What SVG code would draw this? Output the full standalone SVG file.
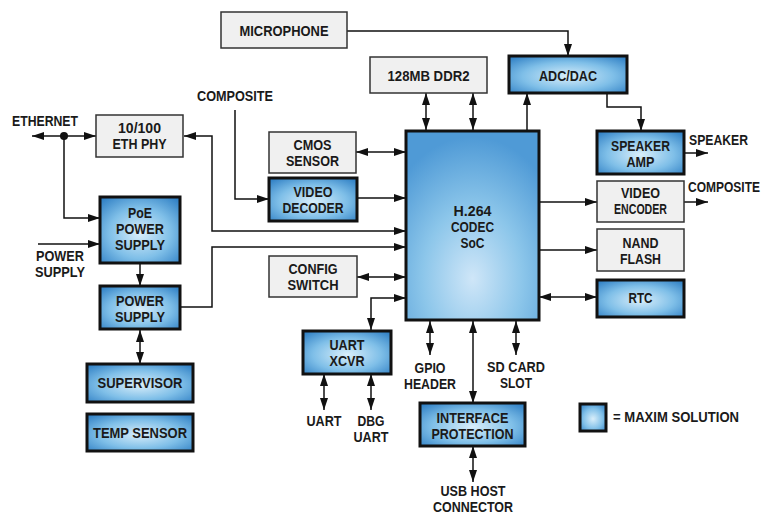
<svg xmlns="http://www.w3.org/2000/svg" width="764" height="514" viewBox="0 0 764 514">
<defs>
<radialGradient id="gb" cx="50%" cy="55%" r="70%">
<stop offset="0" stop-color="#d9eefa"/>
<stop offset="0.55" stop-color="#7fbfe8"/>
<stop offset="1" stop-color="#2f7fc4"/>
</radialGradient>
<radialGradient id="gsoc" cx="50%" cy="78%" r="75%">
<stop offset="0" stop-color="#cfe6f8"/>
<stop offset="0.5" stop-color="#8cc6ea"/>
<stop offset="1" stop-color="#4f9ad6"/>
</radialGradient>
<marker id="ah" viewBox="0 0 12 8" refX="12" refY="4" markerWidth="12" markerHeight="8" markerUnits="userSpaceOnUse" orient="auto-start-reverse">
<path d="M0,0 L12,4 L0,8 z" fill="#111"/>
</marker>
</defs>
<style>
.g{fill:#f0f0f0;stroke:#333;stroke-width:1.5}
.b{fill:url(#gb);stroke:#111;stroke-width:3}
.soc{fill:url(#gsoc);stroke:#111;stroke-width:3}
text{font-family:"Liberation Sans",Arial,sans-serif;font-weight:bold;font-size:15px;fill:#1a1a1a;text-anchor:middle}
.l{text-anchor:start}
#connectors path,#connectors line{fill:none;stroke:#111;stroke-width:1.5}
.s{marker-end:url(#ah)}
.d{marker-start:url(#ah);marker-end:url(#ah)}
</style>
<rect width="764" height="514" fill="#fff"/>

<g id="connectors">
<line class="d" x1="32" y1="136" x2="96" y2="136"/>
<circle cx="64" cy="136" r="4" fill="#111"/>
<path class="s" d="M64,136 V218 H100"/>
<line class="s" x1="38" y1="244" x2="100" y2="244"/>
<line class="s" x1="140" y1="263" x2="140" y2="286"/>
<line class="d" x1="140" y1="330" x2="140" y2="364"/>
<path class="s" d="M180,307 H212 V247 H406"/>
<path class="d" d="M184,136 H212 V231 H406"/>
<path class="s" d="M235,110 V199 H269"/>
<line class="s" x1="357" y1="198" x2="406" y2="198"/>
<line class="d" x1="356" y1="152" x2="406" y2="152"/>
<line class="d" x1="357" y1="277" x2="406" y2="277"/>
<path class="d" d="M406,298 H371 V330"/>
<line class="d" x1="426" y1="93" x2="426" y2="130"/>
<line class="d" x1="473" y1="93" x2="473" y2="130"/>
<line class="s" x1="527" y1="131" x2="527" y2="93"/>
<path class="s" d="M347,31 H568 V56"/>
<path class="s" d="M607,93 V107 H641 V131"/>
<line class="s" x1="684" y1="153" x2="708" y2="153"/>
<line class="s" x1="539" y1="202" x2="597" y2="202"/>
<line class="s" x1="684" y1="202" x2="708" y2="202"/>
<line class="s" x1="539" y1="250" x2="597" y2="250"/>
<line class="d" x1="539" y1="297" x2="597" y2="297"/>
<line class="d" x1="430" y1="321" x2="430" y2="355"/>
<line class="d" x1="473" y1="321" x2="473" y2="403"/>
<line class="d" x1="516" y1="321" x2="516" y2="355"/>
<line class="d" x1="473" y1="446" x2="473" y2="482"/>
<line class="d" x1="324" y1="374" x2="324" y2="410"/>
<line class="d" x1="371" y1="374" x2="371" y2="410"/>
</g>

<g id="microphone"><rect class="g" x="221" y="12" width="126" height="36"/><text x="284" y="35.5" textLength="89" lengthAdjust="spacingAndGlyphs">MICROPHONE</text></g>
<g id="ddr2"><rect class="g" x="370" y="57" width="117" height="36"/><text x="428.5" y="80.5" textLength="82" lengthAdjust="spacingAndGlyphs">128MB DDR2</text></g>
<g id="ethphy"><rect class="g" x="96" y="115" width="87" height="42"/><text x="139.5" y="133" textLength="43" lengthAdjust="spacingAndGlyphs">10/100</text><text x="139.5" y="149" textLength="54" lengthAdjust="spacingAndGlyphs">ETH PHY</text></g>
<g id="cmos"><rect class="g" x="269" y="132" width="87" height="41"/><text x="312.5" y="150" textLength="38" lengthAdjust="spacingAndGlyphs">CMOS</text><text x="312.5" y="166" textLength="53" lengthAdjust="spacingAndGlyphs">SENSOR</text></g>
<g id="videodecoder"><rect class="b" x="269" y="178" width="88" height="43"/><text x="313" y="197" textLength="39" lengthAdjust="spacingAndGlyphs">VIDEO</text><text x="313" y="213" textLength="61" lengthAdjust="spacingAndGlyphs">DECODER</text></g>
<g id="config"><rect class="g" x="269" y="256" width="88" height="41"/><text x="313" y="274" textLength="49" lengthAdjust="spacingAndGlyphs">CONFIG</text><text x="313" y="290" textLength="51" lengthAdjust="spacingAndGlyphs">SWITCH</text></g>
<g id="soc"><rect class="soc" x="406" y="131" width="133" height="189"/><text x="472.5" y="216" textLength="38" lengthAdjust="spacingAndGlyphs">H.264</text><text x="472.5" y="232" textLength="43" lengthAdjust="spacingAndGlyphs">CODEC</text><text x="472.5" y="248" textLength="24" lengthAdjust="spacingAndGlyphs">SoC</text></g>
<g id="adcdac"><rect class="b" x="509" y="56" width="118" height="37"/><text x="568" y="81" textLength="58" lengthAdjust="spacingAndGlyphs">ADC/DAC</text></g>
<g id="speakeramp"><rect class="b" x="597" y="131" width="87" height="43"/><text x="640.5" y="151" textLength="59" lengthAdjust="spacingAndGlyphs">SPEAKER</text><text x="640.5" y="167" textLength="28" lengthAdjust="spacingAndGlyphs">AMP</text></g>
<g id="videoencoder"><rect class="g" x="597" y="181" width="87" height="41"/><text x="640.5" y="198" textLength="39" lengthAdjust="spacingAndGlyphs">VIDEO</text><text x="640.5" y="214" textLength="53" lengthAdjust="spacingAndGlyphs">ENCODER</text></g>
<g id="nand"><rect class="g" x="597" y="229" width="87" height="42"/><text x="640.5" y="248" textLength="36" lengthAdjust="spacingAndGlyphs">NAND</text><text x="640.5" y="264" textLength="41" lengthAdjust="spacingAndGlyphs">FLASH</text></g>
<g id="rtc"><rect class="b" x="597" y="280" width="87" height="37"/><text x="640.5" y="303" textLength="24" lengthAdjust="spacingAndGlyphs">RTC</text></g>
<g id="poe"><rect class="b" x="100" y="197" width="80" height="66"/><text x="140" y="218" textLength="24" lengthAdjust="spacingAndGlyphs">PoE</text><text x="140" y="234" textLength="48" lengthAdjust="spacingAndGlyphs">POWER</text><text x="140" y="250" textLength="50" lengthAdjust="spacingAndGlyphs">SUPPLY</text></g>
<g id="powersupply"><rect class="b" x="100" y="286" width="80" height="43"/><text x="140" y="306" textLength="48" lengthAdjust="spacingAndGlyphs">POWER</text><text x="140" y="322" textLength="50" lengthAdjust="spacingAndGlyphs">SUPPLY</text></g>
<g id="supervisor"><rect class="b" x="87" y="364" width="106" height="38"/><text x="140" y="388" textLength="85" lengthAdjust="spacingAndGlyphs">SUPERVISOR</text></g>
<g id="tempsensor"><rect class="b" x="87" y="414" width="106" height="37"/><text x="140" y="438" textLength="94" lengthAdjust="spacingAndGlyphs">TEMP SENSOR</text></g>
<g id="uartxcvr"><rect class="b" x="303" y="331" width="88" height="43"/><text x="347" y="350" textLength="35" lengthAdjust="spacingAndGlyphs">UART</text><text x="347" y="366" textLength="35" lengthAdjust="spacingAndGlyphs">XCVR</text></g>
<g id="interface"><rect class="b" x="420" y="403" width="105" height="43"/><text x="472.5" y="423" textLength="72" lengthAdjust="spacingAndGlyphs">INTERFACE</text><text x="472.5" y="439" textLength="82" lengthAdjust="spacingAndGlyphs">PROTECTION</text></g>
<g id="legend"><rect class="b" x="580" y="404" width="26" height="27"/><text class="l" x="613" y="422" textLength="126" lengthAdjust="spacingAndGlyphs">= MAXIM SOLUTION</text></g>

<g id="labels">
<text x="45" y="126" textLength="66" lengthAdjust="spacingAndGlyphs">ETHERNET</text>
<text x="235" y="101" textLength="76" lengthAdjust="spacingAndGlyphs">COMPOSITE</text>
<text x="60" y="261" textLength="48" lengthAdjust="spacingAndGlyphs">POWER</text><text x="60" y="277" textLength="50" lengthAdjust="spacingAndGlyphs">SUPPLY</text>
<text class="l" x="689" y="145" textLength="59" lengthAdjust="spacingAndGlyphs">SPEAKER</text>
<text class="l" x="688" y="192" style="font-size:12.5px" transform="translate(688 192) scale(1 1.2) translate(-688 -192)" textLength="72" lengthAdjust="spacingAndGlyphs">COMPOSITE</text>
<text x="324" y="426" textLength="35" lengthAdjust="spacingAndGlyphs">UART</text>
<text x="371" y="426" textLength="27" lengthAdjust="spacingAndGlyphs">DBG</text><text x="371" y="442" textLength="35" lengthAdjust="spacingAndGlyphs">UART</text>
<text x="430" y="373" textLength="31" lengthAdjust="spacingAndGlyphs">GPIO</text><text x="430" y="389" textLength="52" lengthAdjust="spacingAndGlyphs">HEADER</text>
<text x="516" y="372" textLength="58" lengthAdjust="spacingAndGlyphs">SD CARD</text><text x="516" y="388" textLength="32" lengthAdjust="spacingAndGlyphs">SLOT</text>
<text x="473" y="496" textLength="65" lengthAdjust="spacingAndGlyphs">USB HOST</text><text x="473" y="512" textLength="80" lengthAdjust="spacingAndGlyphs">CONNECTOR</text>
</g>
</svg>
